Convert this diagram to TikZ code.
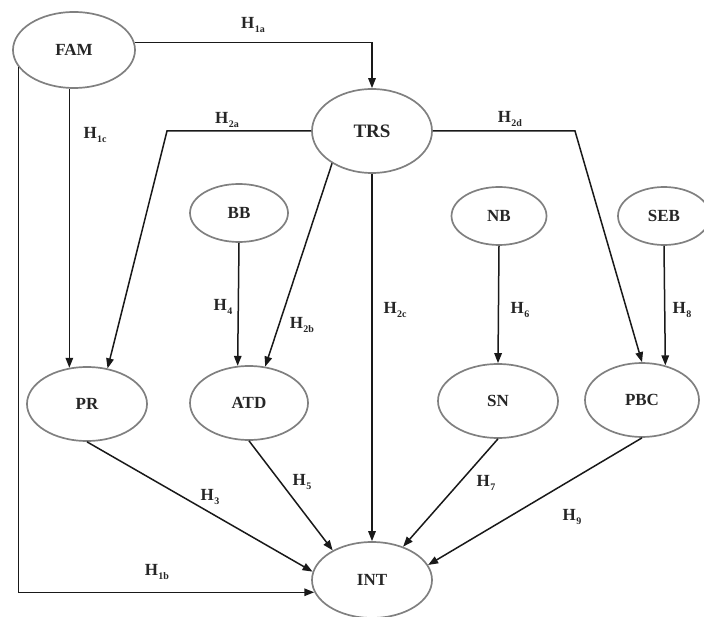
\documentclass[tikz,border=0pt]{standalone}
\usepackage{fontspec}
\setmainfont{Liberation Serif}
\usetikzlibrary{shapes.geometric,arrows.meta}
\tikzset{
  var/.style={ellipse, draw=black!50, line width=1.7pt, inner sep=0pt,
    font=\fontsize{17}{17}\selectfont\bfseries, text=black!85},
  arr/.style={draw=black!90, line width=1.5pt, -{Triangle[length=10pt,width=7.5pt]}},
  hlab/.style={font=\fontsize{17}{17}\selectfont\bfseries, text=black!85, inner sep=0pt},
}
% hypothesis label: H with a small lowered index
\newcommand{\hyp}[1]{H\kern0.3pt\raisebox{-0.45ex}{\fontsize{10}{10}\selectfont\bfseries #1}}
\begin{document}
\begin{tikzpicture}[x=1pt,y=-1pt]
\useasboundingbox (0,0) rectangle (704,617);

% constructs
\node[var, minimum width=122pt, minimum height=76pt] (FAM) at (74,50)  {FAM};
\node[var, minimum width=120pt, minimum height=84pt, font=\fontsize{19}{19}\selectfont\bfseries] (TRS) at (372,131) {TRS};
\node[var, minimum width=98pt,  minimum height=58pt] (BB)  at (239,213) {BB};
\node[var, minimum width=95pt,  minimum height=58pt] (NB)  at (499,216) {NB};
\node[var, minimum width=92pt,  minimum height=58pt] (SEB) at (664,216) {SEB};
\node[var, minimum width=120pt, minimum height=74pt] (PR)  at (87,404)  {PR};
\node[var, minimum width=118pt, minimum height=74pt] (ATD) at (249,403) {ATD};
\node[var, minimum width=120pt, minimum height=74pt] (SN)  at (498,401) {SN};
\node[var, minimum width=114pt, minimum height=74pt] (PBC) at (642,400) {PBC};
\node[var, minimum width=120pt, minimum height=76pt] (INT) at (372,580) {INT};

% bends of the elbow paths
\coordinate (c2a) at (167,131);
\coordinate (c2d) at (575,131);

% paths
\draw[arr] (FAM.7) -| (TRS.north);
\draw[arr] (FAM.197) |- (INT.192);
\draw[arr] (PR.116 |- FAM.south) -- (PR.116);
\draw[arr] (TRS.west) -- (c2a) -- (PR.60);
\draw[arr] (TRS.219) -- (ATD.66);
\draw[arr] (TRS.south) -- (INT.north);
\draw[arr] (TRS.east) -- (c2d) -- (PBC.north);
\draw[arr] (BB.south) -- (ATD.107);
\draw[arr] (NB.south) -- (SN.north);
\draw[arr] (SEB.south) -- (PBC.56);
\draw[arr] (PR.south) -- (INT.172);
\draw[arr] (ATD.south) -- (INT.143);
\draw[arr] (SN.south) -- (INT.47);
\draw[arr] (PBC.south) -- (INT.15);

% hypothesis labels
\node[hlab] (h1a) at (253,25)  {\hyp{1a}};
\node[hlab] (h1c) at (95,135)  {\hyp{1c}};
\node[hlab] (h2a) at (227,120) {\hyp{2a}};
\node[hlab] (h2d) at (510,119) {\hyp{2d}};
\node[hlab] (h4)  at (223,307) {\hyp{4}};
\node[hlab] (h2b) at (302,325) {\hyp{2b}};
\node[hlab] (h2c) at (395,310) {\hyp{2c}};
\node[hlab] (h6)  at (520,310) {\hyp{6}};
\node[hlab] (h8)  at (682,310) {\hyp{8}};
\node[hlab] (h3)  at (210,497) {\hyp{3}};
\node[hlab] (h5)  at (302,482) {\hyp{5}};
\node[hlab] (h7)  at (486,483) {\hyp{7}};
\node[hlab] (h9)  at (572,517) {\hyp{9}};
\node[hlab] (h1b) at (157,572) {\hyp{1b}};
\end{tikzpicture}
\end{document}
